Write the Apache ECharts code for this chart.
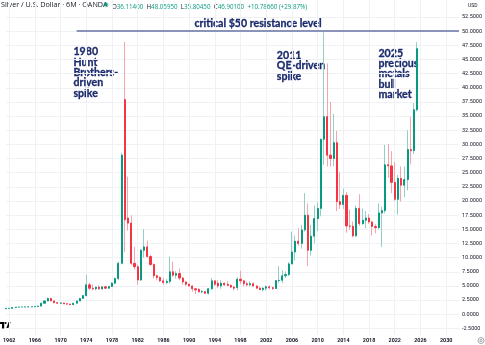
<!DOCTYPE html>
<html>
<head>
<meta charset="utf-8">
<script src="https://cdn.jsdelivr.net/npm/echarts@6/dist/echarts.min.js"></script>
<style>
html,body{margin:0;padding:0;background:#fff;}
#c{width:485px;height:345px;}
</style>
</head>
<body>
<div id="c"></div>
<script>
// Half-year periods (categories), incl. empty future periods to the right edge
const periods = [
"1961 H2",
"1962 H1","1962 H2","1963 H1","1963 H2","1964 H1","1964 H2","1965 H1","1965 H2","1966 H1","1966 H2",
"1967 H1","1967 H2","1968 H1","1968 H2","1969 H1","1969 H2","1970 H1","1970 H2","1971 H1","1971 H2",
"1972 H1","1972 H2","1973 H1","1973 H2","1974 H1","1974 H2","1975 H1","1975 H2","1976 H1","1976 H2",
"1977 H1","1977 H2","1978 H1","1978 H2","1979 H1","1979 H2","1980 H1","1980 H2","1981 H1","1981 H2",
"1982 H1","1982 H2","1983 H1","1983 H2","1984 H1","1984 H2","1985 H1","1985 H2","1986 H1","1986 H2",
"1987 H1","1987 H2","1988 H1","1988 H2","1989 H1","1989 H2","1990 H1","1990 H2","1991 H1","1991 H2",
"1992 H1","1992 H2","1993 H1","1993 H2","1994 H1","1994 H2","1995 H1","1995 H2","1996 H1","1996 H2",
"1997 H1","1997 H2","1998 H1","1998 H2","1999 H1","1999 H2","2000 H1","2000 H2","2001 H1","2001 H2",
"2002 H1","2002 H2","2003 H1","2003 H2","2004 H1","2004 H2","2005 H1","2005 H2","2006 H1","2006 H2",
"2007 H1","2007 H2","2008 H1","2008 H2","2009 H1","2009 H2","2010 H1","2010 H2","2011 H1","2011 H2",
"2012 H1","2012 H2","2013 H1","2013 H2","2014 H1","2014 H2","2015 H1","2015 H2","2016 H1","2016 H2",
"2017 H1","2017 H2","2018 H1","2018 H2","2019 H1","2019 H2","2020 H1","2020 H2","2021 H1","2021 H2",
"2022 H1","2022 H2","2023 H1","2023 H2","2024 H1","2024 H2","2025 H1","2025 H2","2026 H1","2026 H2",
"2027 H1","2027 H2","2028 H1","2028 H2","2029 H1","2029 H2","2030 H1","2030 H2","2031 H1","2031 H2",
"2032 H1"
];

// OHLC values per half-year, 1961 H2 .. 2025 H2
const open = [
0.95,
1.03,1.05,1.20,1.27,1.29,1.29,1.30,1.31,1.33,1.38,
1.45,1.95,2.35,2.80,2.35,2.05,1.95,2.00,1.85,1.80,
1.70,1.95,2.35,2.80,3.30,5.20,4.60,4.50,4.80,4.50,
4.85,4.60,4.90,5.50,6.30,9.00,37.90,17.00,16.10,9.00,
8.40,6.05,11.30,11.90,10.20,8.80,6.80,6.50,5.90,5.60,
5.80,7.50,6.90,7.20,6.40,5.70,5.30,5.00,4.50,4.40,
3.95,4.00,3.70,4.50,5.90,5.50,5.00,5.50,5.30,5.10,
4.80,4.70,6.20,5.90,5.40,5.20,5.40,5.00,4.60,4.35,
4.60,4.85,4.70,4.55,5.95,6.00,6.80,7.00,8.90,11.00,
12.90,12.50,14.90,17.50,11.30,13.80,16.90,18.70,30.90,34.90,
28.10,27.50,30.30,19.90,19.40,21.00,15.60,15.55,13.85,18.70,
16.00,16.60,17.00,16.30,15.50,15.30,17.90,18.30,26.40,26.20,
23.30,20.30,24.00,22.80,23.80,29.10,28.90,36.114
];
const high = [
1.05,
1.10,1.22,1.28,1.30,1.31,1.32,1.33,1.36,1.40,1.48,
2.05,2.50,2.95,2.90,2.45,2.15,2.10,2.05,1.95,1.85,
2.00,2.40,2.90,3.40,7.00,5.60,5.30,4.90,5.10,4.90,
5.00,5.00,5.70,6.50,9.30,28.50,48.10,24.30,17.50,11.90,
8.80,11.50,15.00,13.00,10.50,9.00,7.00,6.70,6.40,6.20,
10.20,9.30,7.60,8.10,6.60,5.90,5.40,5.10,4.60,4.60,
4.30,4.10,4.60,6.40,6.00,6.00,6.00,5.60,5.80,5.30,
5.00,6.50,7.70,6.00,5.80,5.80,5.60,5.10,4.90,4.80,
5.10,5.10,4.90,6.00,8.50,7.80,7.60,9.20,14.60,13.90,
15.20,15.80,21.40,19.60,15.80,19.20,19.80,31.00,49.80,44.30,
37.50,35.40,32.40,25.10,22.20,21.60,18.50,16.40,19.20,21.20,
18.70,18.20,17.70,16.50,15.90,19.60,19.00,29.90,30.10,28.80,
26.90,24.60,26.10,26.10,32.50,34.90,37.30,48.0595
];
const low = [
0.92,
1.00,1.03,1.18,1.26,1.28,1.28,1.29,1.30,1.30,1.35,
1.42,1.90,2.30,2.30,1.95,1.85,1.85,1.80,1.70,1.60,
1.65,1.90,2.30,2.70,3.20,4.30,4.20,4.20,4.30,4.30,
4.50,4.50,4.80,5.30,6.00,8.80,11.00,14.80,8.70,7.90,
5.20,5.90,10.00,10.00,8.50,6.30,6.00,5.70,5.20,5.30,
5.40,6.60,6.30,6.00,5.20,5.00,4.90,4.00,3.60,3.90,
3.70,3.60,3.50,4.30,5.00,4.60,4.50,5.00,5.00,4.60,
4.20,4.20,5.30,4.90,4.90,4.90,4.90,4.60,4.30,4.05,
4.20,4.40,4.30,4.50,5.50,5.50,6.40,6.80,8.80,9.50,
12.10,11.60,14.60,8.50,10.40,12.50,14.70,17.30,26.40,26.10,
26.10,26.20,18.20,18.60,18.60,14.40,14.90,13.60,13.70,15.60,
15.80,15.20,16.00,13.90,14.30,15.00,11.90,17.80,24.10,21.40,
20.00,17.60,19.90,20.70,21.90,26.50,28.30,35.8045
];
const close = [
1.03,
1.05,1.20,1.27,1.29,1.29,1.30,1.31,1.33,1.38,1.45,
1.95,2.35,2.80,2.35,2.05,1.95,2.00,1.85,1.80,1.70,
1.95,2.35,2.80,3.30,5.20,4.60,4.50,4.80,4.50,4.85,
4.60,4.90,5.50,6.30,9.00,28.10,16.70,16.10,9.00,8.40,
6.05,11.30,11.90,10.20,8.80,6.80,6.50,5.90,5.60,5.80,
7.50,6.90,7.20,6.40,5.70,5.30,5.00,4.50,4.30,3.95,
4.00,3.70,4.50,5.90,5.30,5.00,5.50,5.20,5.10,4.80,
4.60,6.20,5.90,5.40,5.20,5.40,5.00,4.60,4.35,4.60,
4.85,4.70,4.55,5.95,6.00,6.80,7.00,8.90,11.00,12.90,
12.50,14.90,17.50,11.30,13.80,16.90,18.70,30.90,34.90,28.10,
27.50,30.30,19.90,19.40,21.00,15.60,15.55,13.85,18.70,16.00,
16.60,17.00,16.30,15.50,15.30,17.90,18.30,26.40,26.20,23.30,
20.30,24.00,22.80,23.80,29.10,28.90,36.114,46.901
];

// Tick labels
const yearLabels = ["1962","1966","1970","1974","1978","1982","1986","1990","1994","1998","2002","2006","2010","2014","2018","2022","2026","2030"];
const priceTicks = [-2.5,0,2.5,5,7.5,10,12.5,15,17.5,20,22.5,25,27.5,30,32.5,35,37.5,40,42.5,45,47.5,50,52.5];
const resistanceLevel = 50;
const changeText = "+10.78660 (+29.87%)";

const UP = '#089981', DOWN = '#f23645';
const UP_WICK = '#93cfc4', DOWN_WICK = '#f7a5ac';
const NAVY = '#1a2a6c';
const TXT = '#131722';

const wickData = open.map((o, i) => [o, close[i], low[i], high[i]]);
const bodyData = open.map((o, i) => [o, close[i], Math.min(o, close[i]), Math.max(o, close[i])]);

const isYearTick = (idx, v) => v.endsWith('H1') && yearLabels.includes(v.slice(0, 4));

const last = open.length - 1;
const fx = v => v.toFixed(5);

const annoStyle = (text) => ({
  text: text, fill: NAVY, stroke: NAVY, lineWidth: 0.3,
  fontSize: 10.6, fontWeight: 'bold', fontFamily: 'Lato', lineHeight: 10.4
});

const chart = echarts.init(document.getElementById('c'), null, {renderer: 'canvas'});
chart.setOption({
  animation: false,
  backgroundColor: '#ffffff',
  grid: {left: 3.2, right: 21.4, top: 0, bottom: 10},
  xAxis: {
    type: 'category',
    data: periods,
    boundaryGap: false,
    axisLine: {show: false},
    axisTick: {show: false},
    axisLabel: {
      interval: isYearTick,
      formatter: v => v.slice(0, 4),
      fontSize: 5.4, fontWeight: 'bold', color: TXT, margin: 3, fontFamily: 'Roboto'
    },
    splitLine: {show: true, interval: isYearTick, lineStyle: {color: '#f0f1f4', width: 1}}
  },
  yAxis: {
    type: 'value',
    position: 'right',
    min: -3.66, max: 55.5,
    axisLine: {show: false},
    axisTick: {show: false, customValues: priceTicks},
    axisLabel: {
      customValues: priceTicks,
      formatter: v => Number(v).toFixed(4),
      fontSize: 5.5, color: TXT, margin: 3, fontFamily: 'Roboto'
    },
    splitLine: {show: true, lineStyle: {color: '#f0f1f4', width: 1}}
  },
  series: [
    {
      type: 'candlestick',
      data: wickData,
      barWidth: 1,
      itemStyle: {color: UP_WICK, color0: DOWN_WICK, borderColor: UP_WICK, borderColor0: DOWN_WICK, borderWidth: 1},
      markLine: {
        silent: true,
        symbol: 'none',
        label: {show: false},
        lineStyle: {color: '#8a94b9', width: 2, type: 'solid'},
        data: [[{coord: ['1972 H2', resistanceLevel]}, {coord: [periods[periods.length - 1], resistanceLevel]}]]
      }
    },
    {
      type: 'candlestick',
      data: bodyData,
      barWidth: 1.6,
      itemStyle: {color: UP, color0: DOWN, borderColor: UP, borderColor0: DOWN, borderWidth: 1}
    }
  ],
  graphic: [
    {type: 'text', left: 1, top: 1, style: {text: 'Silver / U.S. Dollar · 6M · OANDA', fill: TXT, fontSize: 7.2, fontFamily: 'Open Sans'}},
    {type: 'circle', shape: {cx: 106, cy: 4.6, r: 2.6}, style: {fill: 'rgba(8,153,129,0.3)'}},
    {type: 'circle', shape: {cx: 106, cy: 4.6, r: 1.5}, style: {fill: UP}},
    {type: 'text', left: 112, top: 1.6, style: {
      text: '{l|O}{v|' + fx(open[last]) + '} {l|H}{v|' + fx(high[last]) + '} {l|L}{v|' + fx(low[last]) + '} {l|C}{v|' + fx(close[last]) + '} {v|' + changeText + '}',
      rich: {
        l: {fill: TXT, fontSize: 6.2, fontFamily: 'Open Sans'},
        v: {fill: UP, fontSize: 6.2, fontFamily: 'Open Sans'}
      }
    }},
    {type: 'text', left: 468, top: 3, style: {text: 'USD', fill: TXT, fontSize: 5, fontFamily: 'Roboto'}},
    {type: 'text', left: 194.3, top: 17.6, style: {text: 'critical $50 resistance level', fill: NAVY, stroke: NAVY, lineWidth: 0.3, fontSize: 10.6, fontWeight: 'bold', fontFamily: 'Lato'}},
    {type: 'text', left: 73.3, top: 46.2, style: annoStyle('1980\nHunt\nBrothers-\ndriven\nspike')},
    {type: 'text', left: 276.7, top: 50.0, style: annoStyle('2011\nQE-driven\nspike')},
    {type: 'text', left: 378.3, top: 47.5, style: annoStyle('2025\nprecious\nmetals\nbull\nmarket')},
    // TradingView-style logo (shapes)
    {type: 'rect', shape: {x: 0, y: 322, width: 4.2, height: 2}, style: {fill: '#000'}},
    {type: 'rect', shape: {x: 2, y: 322, width: 2.2, height: 6.5}, style: {fill: '#000'}},
    {type: 'circle', shape: {cx: 5.6, cy: 323, r: 1}, style: {fill: '#000'}},
    {type: 'polygon', shape: {points: [[6.2, 328.5], [8.6, 322], [10.6, 322], [8.2, 328.5]]}, style: {fill: '#000'}},
    // settings gear
    {type: 'circle', shape: {cx: 481, cy: 340.5, r: 3}, style: {fill: 'none', stroke: '#8a8e99', lineWidth: 0.8}},
    {type: 'circle', shape: {cx: 481, cy: 340.5, r: 1.1}, style: {fill: 'none', stroke: '#8a8e99', lineWidth: 0.8}}
  ]
});
</script>
</body>
</html>
